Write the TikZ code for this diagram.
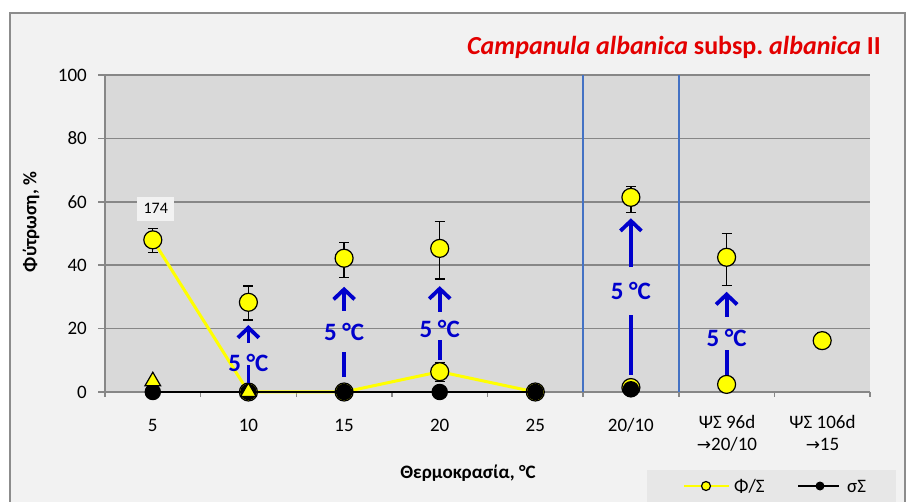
\documentclass[tikz,border=0pt]{standalone}
\usepackage{fontspec}
\setmainfont{Carlito}
\newfontfamily\symfont{DejaVu Sans}
\usetikzlibrary{arrows.meta,shapes.geometric}
\definecolor{chartbg}{HTML}{F2F2F2}
\definecolor{plotbg}{HTML}{D9D9D9}
\definecolor{gridgrey}{HTML}{878787}
\definecolor{framegrey}{HTML}{8C8C8C}
\definecolor{legendbg}{HTML}{E7E7E7}
\definecolor{arrowblue}{HTML}{0000CC}
\definecolor{sepblue}{HTML}{4472C4}
\definecolor{titlered}{HTML}{E30000}
\definecolor{ser}{HTML}{FFFF00}
\tikzset{
  ticklab/.style={font=\fontsize{19}{22}\selectfont, inner sep=0pt},
  axtitle/.style={font=\bfseries\fontsize{19}{22}\selectfont, inner sep=0pt},
  grid line/.style={draw=gridgrey, line width=1.5pt},
  ycirc/.style={circle, fill=ser, draw=black, line width=1.2pt, minimum size=18pt, inner sep=0pt},
  bcirc/.style={circle, fill=black, minimum size=16.5pt, inner sep=0pt},
  ytri/.style={regular polygon, regular polygon sides=3, fill=ser, draw=black, line width=1.2pt, minimum size=18pt, inner sep=0pt},
  ebar/.style={draw=black, line width=1.3pt},
  yline/.style={draw=ser, line width=3pt},
  bline/.style={draw=black, line width=2.5pt},
  bluebar/.style={draw=arrowblue, line width=3.8pt},
  bluearrow/.style={draw=arrowblue, line width=3.8pt, -{Straight Barb[length=10pt,width=21pt]}},
  degtext/.style={text=arrowblue, font=\bfseries\fontsize{25}{28}\selectfont, inner sep=0pt},
}
\newcommand\errbar[3]{%
  \draw[ebar] (#1,#2) -- (#1,#3);
  \draw[ebar] ({#1-5},#2) -- ({#1+5},#2);
  \draw[ebar] ({#1-5},#3) -- ({#1+5},#3);}
\begin{document}
\begin{tikzpicture}[x=1pt,y=1pt]
\useasboundingbox (0,0) rectangle (908,501);
\fill[white] (0,0) rectangle (908,501);
% chart area
\draw[draw=framegrey, line width=2pt, fill=chartbg] (10,-5) rectangle (905,488);
% title
\node[anchor=base east, text=titlered, font=\bfseries\fontsize{26}{30}\selectfont, inner sep=0pt] (title) at (881,446)
  {\textit{Campanula albanica} subsp.\ \textit{albanica} II};
% plot
\begin{scope}[yshift=109pt, y=3.17pt]
  \fill[plotbg] (105,0) rectangle (870,100);
  \foreach \v in {20,40,60,80} { \draw[grid line] (105,\v) -- (870,\v); }
  \draw[draw=gridgrey, line width=2pt] (105,100) -- (870,100);
  \draw[grid line] (105,0) -- (105,100);
  \draw[grid line] (105,0) -- (870,0);
  \foreach \v in {0,20,40,60,80,100} { \draw[grid line] (98,\v) -- (105,\v); }
  \foreach \x in {105,200.6,296.3,391.9,487.5,583.1,678.8,774.4,870} { \draw[grid line] (\x,0) -- (\x,-1.7); }
  % separators
  \draw[draw=sepblue, line width=1.5pt] (583.1,0) -- (583.1,100);
  \draw[draw=sepblue, line width=1.5pt] (678.8,0) -- (678.8,100);
  % y tick labels
  \foreach \v in {0,20,40,60,80,100} { \node[ticklab, anchor=east] (yl\v) at (87,\v) {\v}; }
  % yellow series line
  \coordinate (y1) at (152.8,48);
  \coordinate (y2) at (248.4,0);
  \coordinate (y3) at (344.1,0);
  \coordinate (y4) at (439.7,6.4);
  \coordinate (y5) at (535.3,0);
  \draw[yline] (y1) -- (y2) -- (y3) -- (y4) -- (y5);
  % error bars
  \errbar{152.8}{51.6}{44}
  \errbar{248.4}{33.4}{22.7}
  \errbar{344.1}{47.2}{36.2}
  \errbar{439.7}{53.7}{35.6}
  \errbar{439.7}{9.3}{3.3}
  \errbar{630.9}{64.8}{56.6}
  \errbar{726.6}{50}{33.5}
  \errbar{822.2}{18.6}{13.8}
  % yellow markers
  \node[ycirc] (m1) at (y1) {};
  \node[ycirc] (m2) at (y2) {};
  \node[ycirc] (m3) at (y3) {};
  \node[ycirc] (m4) at (y4) {};
  \node[ycirc] (m5) at (y5) {};
  \node[ycirc] (u2) at (248.4,28.3) {};
  \node[ycirc] (u3) at (344.1,42.2) {};
  \node[ycirc] (u4) at (439.7,45.3) {};
  \node[ycirc] (u6) at (630.9,61.4) {};
  \node[ycirc] (l6) at (630.9,1.4) {};
  \node[ycirc] (u7) at (726.6,42.5) {};
  \node[ycirc] (l7) at (726.6,2.4) {};
  \node[ycirc] (u8) at (822.2,16.2) {};
  % black series
  \coordinate (b1) at (152.8,0);
  \coordinate (b2) at (248.4,0);
  \coordinate (b3) at (344.1,0);
  \coordinate (b4) at (439.7,0);
  \coordinate (b5) at (535.3,0);
  \draw[bline] (b1) -- (b2) -- (b3) -- (b4) -- (b5);
  \foreach \i in {1,...,5} { \node[bcirc] (bm\i) at (b\i) {}; }
  \node[bcirc] (bm6) at (630.9,0.85) {};
  % triangles
  \node[ytri] (tr1) at (152.8,3.4) {};
  \node[ytri] (tr2) at (248.4,0) {};
  % 5 C arrows
  \coordinate (s2a) at (248.4,2.8);  \coordinate (s2b) at (248.4,8.5);
  \coordinate (a2a) at (248.4,15.5); \coordinate (a2b) at (248.4,21.1);
  \draw[bluebar] (s2a) -- (s2b);
  \node[degtext] (t2) at (248.4,9.3) {5 °C};
  \draw[bluearrow] (a2a) -- (a2b);
  \coordinate (s3a) at (344.1,4.8);  \coordinate (s3b) at (344.1,12.7);
  \coordinate (a3a) at (344.1,25.6); \coordinate (a3b) at (344.1,33.2);
  \draw[bluebar] (s3a) -- (s3b);
  \node[degtext] (t3) at (344.1,18.8) {5 °C};
  \draw[bluearrow] (a3a) -- (a3b);
  \coordinate (s4a) at (439.7,10.1); \coordinate (s4b) at (439.7,16.4);
  \coordinate (a4a) at (439.7,25.3); \coordinate (a4b) at (439.7,33.4);
  \draw[bluebar] (s4a) -- (s4b);
  \node[degtext] (t4) at (439.7,20.0) {5 °C};
  \draw[bluearrow] (a4a) -- (a4b);
  \coordinate (s6a) at (630.9,5.4);  \coordinate (s6b) at (630.9,24.3);
  \coordinate (a6a) at (630.9,39.3); \coordinate (a6b) at (630.9,54.8);
  \draw[bluebar] (s6a) -- (s6b);
  \node[degtext] (t6) at (630.9,31.9) {5 °C};
  \draw[bluearrow] (a6a) -- (a6b);
  \coordinate (s7a) at (726.6,5.4);  \coordinate (s7b) at (726.6,13.2);
  \coordinate (a7a) at (726.6,23.8); \coordinate (a7b) at (726.6,31.6);
  \draw[bluebar] (s7a) -- (s7b);
  \node[degtext] (t7) at (726.6,17.2) {5 °C};
  \draw[bluearrow] (a7a) -- (a7b);
  % data label
  \node[fill=chartbg, minimum width=37pt, minimum height=24pt, inner sep=0pt, font=\fontsize{16}{18}\selectfont] (lab174) at (155.7,57.8) {174};
\end{scope}
% x tick labels
\node[ticklab] (xl1) at (152.8,76) {5};
\node[ticklab] (xl2) at (248.4,76) {10};
\node[ticklab] (xl3) at (344.1,76) {15};
\node[ticklab] (xl4) at (439.7,76) {20};
\node[ticklab] (xl5) at (535.3,76) {25};
\node[ticklab] (xl6) at (630.9,76) {20/10};
\node[ticklab, anchor=north, align=center] (xl7) at (727,86) {ΨΣ 96d\\{\symfont\fontsize{17}{22}\selectfont →}20/10};
\node[ticklab, anchor=north, align=center] (xl8) at (822.5,86) {ΨΣ 106d\\{\symfont\fontsize{17}{22}\selectfont →}15};
% axis titles
\node[axtitle] (xt) at (468,28) {Θερμοκρασία, °C};
\node[axtitle, rotate=90] (yt) at (31,279) {Φύτρωση, \%};
% legend
\fill[legendbg] (647,-2) rectangle (896,31);
\coordinate (lg1a) at (684,15); \coordinate (lg1b) at (729,15);
\draw[draw=ser, line width=2.5pt] (lg1a) -- (lg1b);
\node[circle, fill=ser, draw=black, line width=1.2pt, minimum size=9pt, inner sep=0pt] (lgm1) at (706,15) {};
\node[ticklab, anchor=west] (lgt1) at (734,15) {Φ/Σ};
\coordinate (lg2a) at (798,15); \coordinate (lg2b) at (839,15);
\draw[draw=black, line width=2.5pt] (lg2a) -- (lg2b);
\node[circle, fill=black, minimum size=9pt, inner sep=0pt] (lgm2) at (820,15) {};
\node[ticklab, anchor=west] (lgt2) at (847,15) {σΣ};
\end{tikzpicture}
\end{document}
